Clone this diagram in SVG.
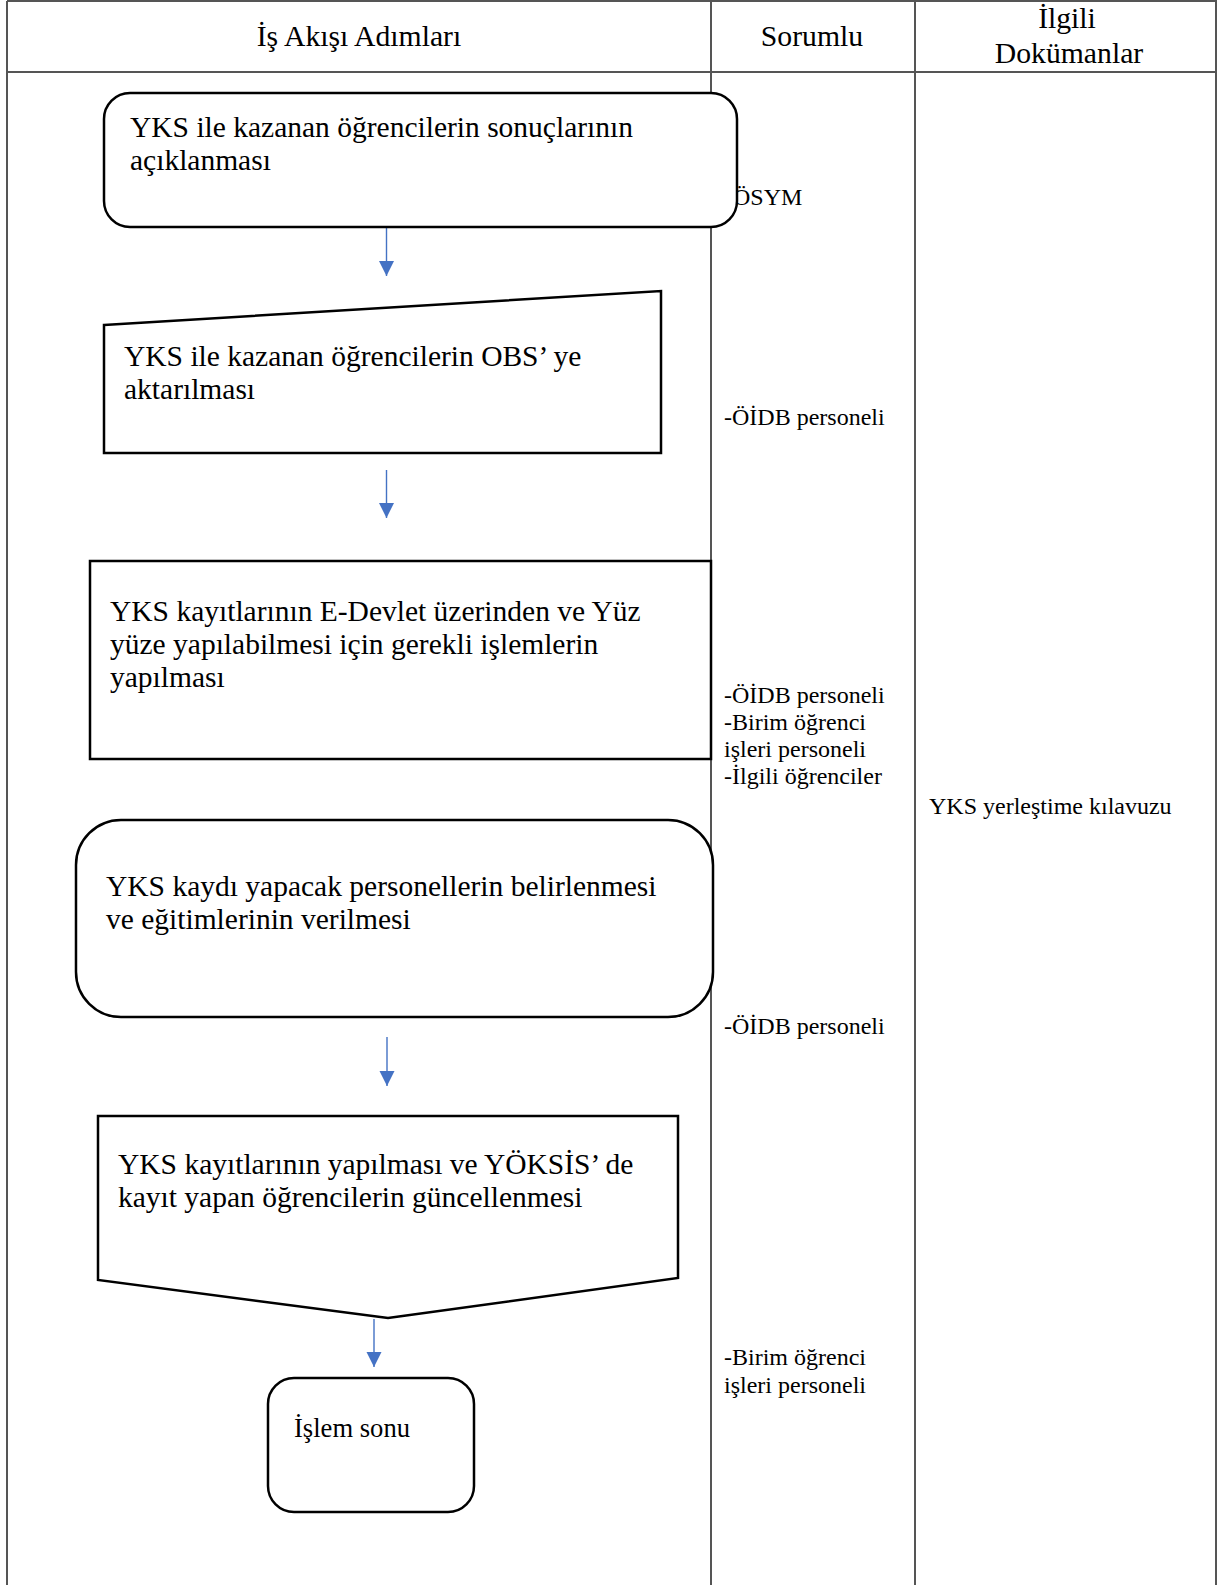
<svg xmlns="http://www.w3.org/2000/svg" width="1217" height="1585" viewBox="0 0 1217 1585">
  <style>
    .grid { stroke: #555; stroke-width: 2; fill: none; }
    .head { font-family: "Liberation Serif", "Times New Roman", serif; font-size: 29.7px; fill: #000; }
    .step { fill: #fff; stroke: #000; stroke-width: 2.5; }
    .lbl { font-family: "Liberation Serif", "Times New Roman", serif; font-size: 29.5px; fill: #000; }
    .lbl.small { font-size: 26.6px; }
    .side { font-family: "Liberation Serif", "Times New Roman", serif; font-size: 24px; fill: #000; }
    .flow { stroke: #4472C4; stroke-width: 1.4; fill: none; }
  </style>
  <defs>
    <marker id="arrow" markerUnits="userSpaceOnUse" markerWidth="16" markerHeight="16" refX="15" refY="7.5" orient="auto">
      <path d="M0,0 L15,7.5 L0,15 Z" fill="#4472C4"/>
    </marker>
  </defs>
  <rect width="1217" height="1585" fill="#fff"/>

  <!-- table grid -->
  <g id="table">
    <line class="grid" x1="7" y1="1" x2="1217" y2="1"/>
    <line class="grid" x1="7" y1="72" x2="1217" y2="72"/>
    <line class="grid" x1="7" y1="1" x2="7" y2="1585"/>
    <line class="grid" x1="711" y1="1" x2="711" y2="1585"/>
    <line class="grid" x1="915" y1="1" x2="915" y2="1585"/>
    <line class="grid" x1="1216" y1="1" x2="1216" y2="1585"/>
    <text class="head" x="359" y="46" text-anchor="middle">İş Akışı Adımları</text>
    <text class="head" x="812" y="46" text-anchor="middle">Sorumlu</text>
    <text class="head" x="1067" y="28" text-anchor="middle">İlgili</text>
    <text class="head" x="1069" y="63" text-anchor="middle">Dokümanlar</text>
  </g>

  <!-- responsible units (drawn under the step boxes) -->
  <g id="responsible">
    <text class="side" x="733" y="205">ÖSYM</text>
    <text class="side" x="724" y="425">-ÖİDB personeli</text>
    <text class="side" x="724" y="703">-ÖİDB personeli</text>
    <text class="side" x="724" y="730">-Birim öğrenci</text>
    <text class="side" x="724" y="757">işleri personeli</text>
    <text class="side" x="724" y="784">-İlgili öğrenciler</text>
    <text class="side" x="724" y="1034">-ÖİDB personeli</text>
    <text class="side" x="724" y="1365">-Birim öğrenci</text>
    <text class="side" x="724" y="1393">işleri personeli</text>
  </g>

  <!-- related documents -->
  <g id="documents">
    <text class="side" x="929" y="814">YKS yerleştime kılavuzu</text>
  </g>

  <!-- connectors -->
  <g id="connectors">
    <line class="flow" x1="386.5" y1="227" x2="386.5" y2="276" marker-end="url(#arrow)"/>
    <line class="flow" x1="386.5" y1="470" x2="386.5" y2="518" marker-end="url(#arrow)"/>
    <line class="flow" x1="387" y1="1037" x2="387" y2="1086" marker-end="url(#arrow)"/>
    <line class="flow" x1="374" y1="1319" x2="374" y2="1367" marker-end="url(#arrow)"/>
  </g>

  <g id="step1">
    <rect class="step" x="104" y="93" width="633" height="134" rx="26" ry="26"/>
    <text class="lbl" x="130" y="137">YKS ile kazanan öğrencilerin sonuçlarının</text>
    <text class="lbl" x="130" y="170">açıklanması</text>
  </g>

  <g id="step2">
    <polygon class="step" points="104,325 661,291 661,453 104,453"/>
    <text class="lbl" x="124" y="366">YKS ile kazanan öğrencilerin OBS’ ye</text>
    <text class="lbl" x="124" y="399">aktarılması</text>
  </g>

  <g id="step3">
    <rect class="step" x="90" y="561" width="621" height="198"/>
    <text class="lbl" x="110" y="621">YKS kayıtlarının E-Devlet üzerinden ve Yüz</text>
    <text class="lbl" x="110" y="654">yüze yapılabilmesi için gerekli işlemlerin</text>
    <text class="lbl" x="110" y="687">yapılması</text>
  </g>

  <g id="step4">
    <rect class="step" x="76" y="820" width="637" height="197" rx="45" ry="45"/>
    <text class="lbl" x="106" y="896">YKS kaydı yapacak personellerin belirlenmesi</text>
    <text class="lbl" x="106" y="929">ve eğitimlerinin verilmesi</text>
  </g>

  <g id="step5">
    <polygon class="step" points="98,1116 678,1116 678,1278 388,1318 98,1280"/>
    <text class="lbl" x="118" y="1174">YKS kayıtlarının yapılması ve YÖKSİS’ de</text>
    <text class="lbl" x="118" y="1207">kayıt yapan öğrencilerin güncellenmesi</text>
  </g>

  <g id="end">
    <rect class="step" x="268" y="1378" width="206" height="134" rx="26" ry="26"/>
    <text class="lbl small" x="294" y="1437">İşlem sonu</text>
  </g>
</svg>
